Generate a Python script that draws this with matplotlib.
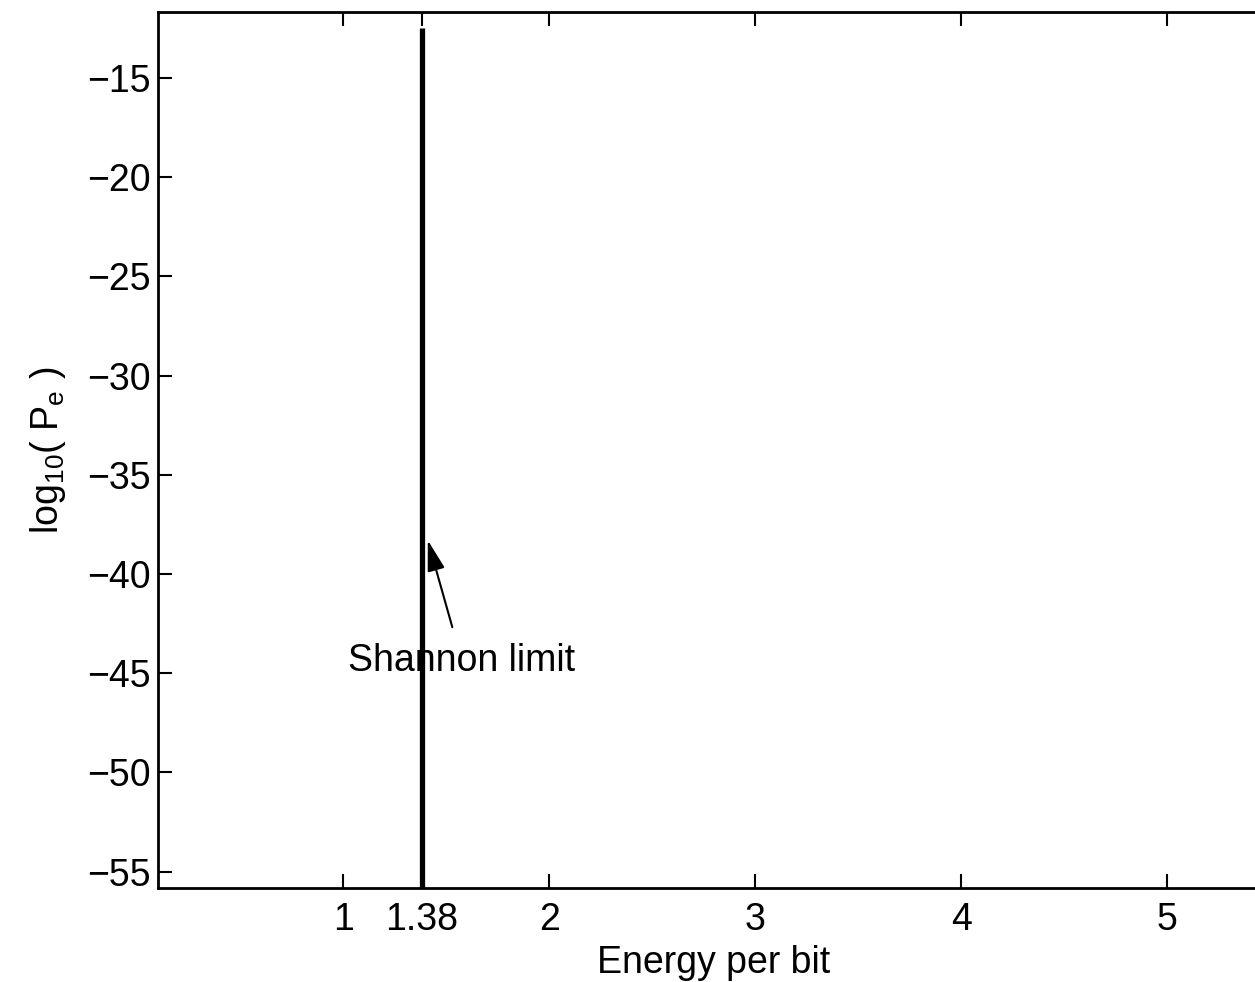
import matplotlib
matplotlib.use("Agg")
import matplotlib.pyplot as plt

plt.rcParams['font.family'] = ['Liberation Sans', 'DejaVu Sans']
plt.rcParams['mathtext.fontset'] = 'custom'
plt.rcParams['mathtext.rm'] = 'Liberation Sans'
plt.rcParams['mathtext.it'] = 'Liberation Sans'

# Shannon limit on energy per bit
shannon_x = 1.38
line_y = [-55.83, -12.5]

xticks = [1, 1.38, 2, 3, 4, 5]
xticklabels = ['1', '1.38', '2', '3', '4', '5']
yticks = [-55, -50, -45, -40, -35, -30, -25, -20, -15]

fig = plt.figure(figsize=(12.55, 9.82), dpi=100)
ax = fig.add_axes([0.1259, 0.0957, 1.012 - 0.1259, 0.9878 - 0.0957])

ax.plot([shannon_x, shannon_x], line_y, color='black', linewidth=3.8, solid_capstyle='butt')

ax.set_xlim(0.1, 5.5)
ax.set_ylim(-55.83, -11.67)
ax.set_xticks(xticks)
ax.set_xticklabels(xticklabels)
ax.set_yticks(yticks)

ax.tick_params(direction='in', length=10, width=1.5, labelsize=27,
               top=True, right=True)
ax.tick_params(axis='x', pad=10)
ax.tick_params(axis='y', pad=5)
for s in ax.spines.values():
    s.set_linewidth(2.0)

ax.set_xlabel('Energy per bit', fontsize=27, labelpad=5)
ax.set_ylabel(r'log$_{\mathregular{10}}$( P$_{\mathregular{e}}$ )', fontsize=27, labelpad=14)

ax.annotate('Shannon limit', xy=(1.41, -38.3), xytext=(1.576, -44.4),
            fontsize=27, ha='center', va='center',
            arrowprops=dict(arrowstyle='-|>,head_length=0.7,head_width=0.2',
                            color='black', linewidth=1.5, shrinkA=10, shrinkB=0))

fig.savefig('out.png', dpi=100)
